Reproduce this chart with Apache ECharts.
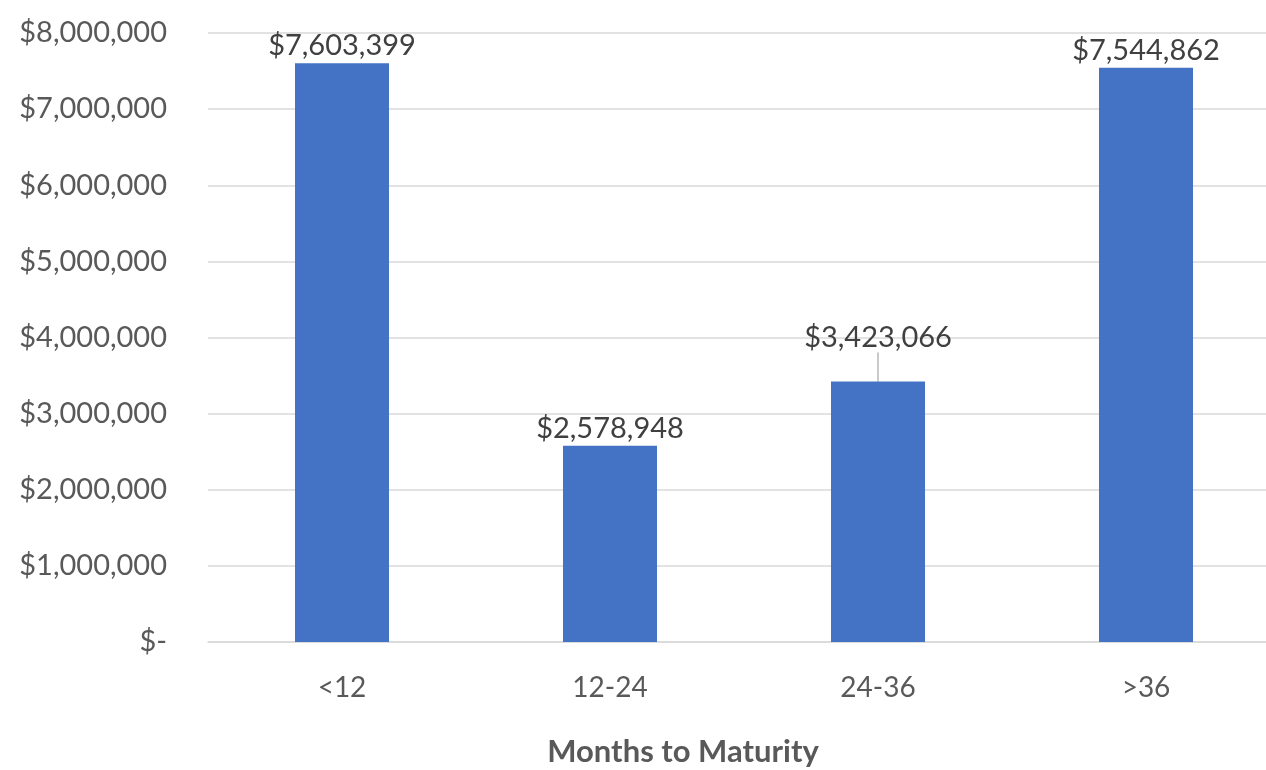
<!DOCTYPE html>
<html><head><meta charset="utf-8">
<script src="https://cdn.jsdelivr.net/npm/echarts@6/dist/echarts.min.js"></script>
<style>html,body{margin:0;padding:0;background:#fff}#c{width:1266px;height:770px}</style>
</head><body><div id="c"></div>
<script>
const categories = ['<12', '12-24', '24-36', '>36'];
const values = [7603399, 2578948, 3423066, 7544862];
const yTicks = [0, 1000000, 2000000, 3000000, 4000000, 5000000, 6000000, 7000000, 8000000];
const xTitle = 'Months to Maturity';

const fmt = v => v === 0 ? '$-' : '$' + Math.round(v).toLocaleString('en-US');
const chart = echarts.init(document.getElementById('c'));
chart.setOption({
  animation: false,
  grid: { left: 208, top: 33, width: 1072, height: 609, outerBoundsMode: 'none', containLabel: false },
  xAxis: {
    type: 'category', data: categories,
    axisLine: { lineStyle: { color: '#d9d9d9', width: 1.5 } },
    axisTick: { show: false },
    axisLabel: { color: '#595959', fontSize: 28, fontFamily: 'Lato', margin: 32 }
  },
  yAxis: {
    type: 'value', min: yTicks[0], max: yTicks[yTicks.length - 1], interval: 1000000,
    axisLine: { show: false }, axisTick: { show: false },
    splitLine: { lineStyle: { color: '#d9d9d9', width: 1.5 } },
    axisLabel: { color: '#595959', fontSize: 29, fontFamily: 'Lato', margin: 41, formatter: fmt }
  },
  series: [{
    type: 'bar', barWidth: 94,
    data: values.map((v, i) => i === 2 ? { value: v, labelLine: { show: true } } : v),
    itemStyle: { color: '#4472c4' },
    label: { show: true, position: 'top', distance: 3, color: '#404040', fontSize: 29, fontFamily: 'Lato', formatter: p => fmt(p.value) },
    labelLine: { show: false, lineStyle: { color: '#a6a6a6', width: 1.2 } },
    labelLayout: p => p.dataIndex === 2 ? { dy: -26 } : {}
  }],
  graphic: [{ type: 'text', x: 683, y: 736, style: { text: xTitle, fontSize: 31, fontWeight: 'bold', fontFamily: 'Lato', fill: '#595959', textAlign: 'center' } }]
});
</script></body></html>
